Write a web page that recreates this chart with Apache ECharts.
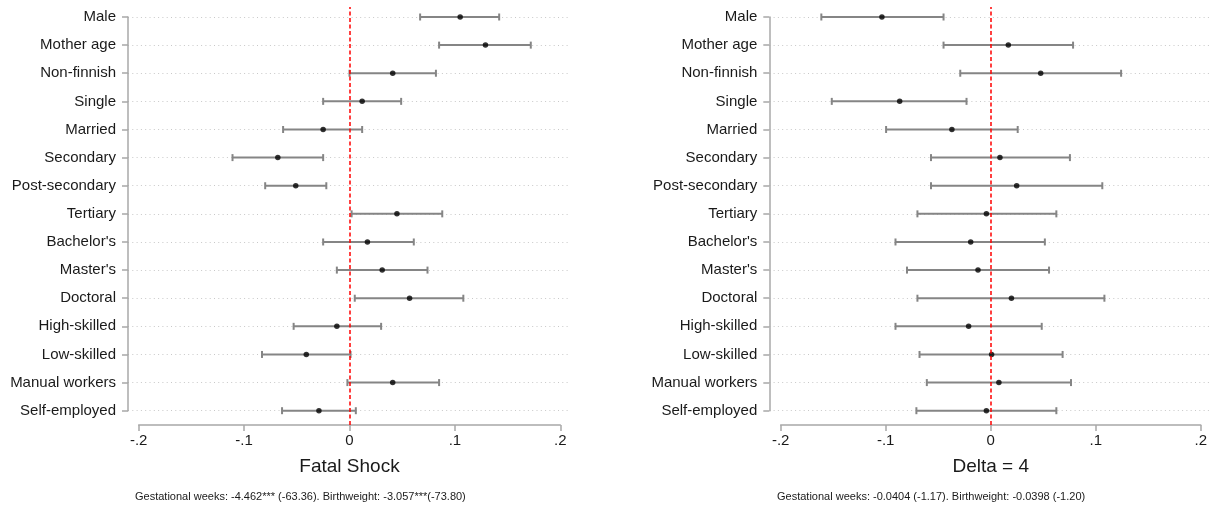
<!DOCTYPE html>
<html>
<head>
<meta charset="utf-8">
<script src="https://cdn.jsdelivr.net/npm/echarts@6/dist/echarts.min.js"></script>
<style>
html,body{margin:0;padding:0;background:#fff;}
#chart{width:1210px;height:507px;}
</style>
</head>
<body>
<div id="chart"></div>
<script>
const categories = ["Male","Mother age","Non-finnish","Single","Married","Secondary","Post-secondary","Tertiary","Bachelor's","Master's","Doctoral","High-skilled","Low-skilled","Manual workers","Self-employed"];

const fatalEst = [0.105, 0.129, 0.041, 0.012, -0.025, -0.068, -0.051, 0.045, 0.017, 0.031, 0.057, -0.012, -0.041, 0.041, -0.029];
const fatalLo  = [0.067, 0.085, 0.000, -0.025, -0.063, -0.111, -0.080, 0.002, -0.025, -0.012, 0.005, -0.053, -0.083, -0.002, -0.064];
const fatalHi  = [0.142, 0.172, 0.082, 0.049, 0.012, -0.025, -0.022, 0.088, 0.061, 0.074, 0.108, 0.030, 0.001, 0.085, 0.006];

const deltaEst = [-0.103, 0.018, 0.049, -0.086, -0.036, 0.010, 0.026, -0.003, -0.018, -0.011, 0.021, -0.020, 0.002, 0.009, -0.003];
const deltaLo  = [-0.161, -0.044, -0.028, -0.151, -0.099, -0.056, -0.056, -0.069, -0.090, -0.079, -0.069, -0.090, -0.067, -0.060, -0.070];
const deltaHi  = [-0.044, 0.080, 0.126, -0.022, 0.027, 0.077, 0.108, 0.064, 0.053, 0.057, 0.110, 0.050, 0.070, 0.078, 0.064];

const xTicks = [-0.2, -0.1, 0, 0.1, 0.2];
const panelTitles = ["Fatal Shock", "Delta = 4"];
const panelNotes = [
  "Gestational weeks: -4.462*** (-63.36). Birthweight: -3.057***(-73.80)",
  "Gestational weeks: -0.0404 (-1.17). Birthweight: -0.0398 (-1.20)"
];

const FONT = "'Liberation Sans', Arial, sans-serif";
const chart = echarts.init(document.getElementById('chart'), null, {renderer: 'canvas'});

function tickFmt(v) {
  const r = Math.round(v * 10) / 10;
  if (r === 0) return '0';
  let s = String(Math.abs(r)).replace(/^0/, '');
  return (r < 0 ? '-' : '') + s;
}

const panels = [
  {yAxisX: 128, xLeft: 138.7, xRight: 560.3, plotRight: 568, est: fatalEst, lo: fatalLo, hi: fatalHi, noteX: 130},
  {yAxisX: 769.3, xLeft: 780.7, xRight: 1202.3, plotRight: 1214, est: deltaEst, lo: deltaLo, hi: deltaHi, noteX: 772}
];

const grids = [], xAxes = [], yAxes = [], series = [], titles = [];
const TOP = 17, BOT = 410.7, AXY = 425, LINE_TOP = 7;

panels.forEach((p, i) => {
  const pxPerUnit = (p.xRight - p.xLeft) / 0.4;
  const pMin = -0.2 - (p.xLeft - p.yAxisX) / pxPerUnit;
  const pMax = 0.2 + (p.plotRight - p.xRight) / pxPerUnit;
  grids.push({left: p.yAxisX, width: p.plotRight - p.yAxisX, top: TOP, height: BOT - TOP, containLabel: false});
  const gP = grids.length - 1;
  xAxes.push({type: 'value', gridIndex: gP, min: pMin, max: pMax, show: false});
  yAxes.push({
    type: 'category', gridIndex: gP, data: categories, inverse: true, boundaryGap: false,
    axisLine: {show: true, onZero: false, lineStyle: {color: '#a8a8a8', width: 1.5}},
    axisTick: {show: true, length: 6, lineStyle: {color: '#a8a8a8', width: 1.5}},
    axisLabel: {color: '#1a1a1a', fontSize: 15, fontFamily: FONT, margin: 12},
    splitLine: {show: true, lineStyle: {color: '#c8c8c8', type: [1, 3.3], width: 1}}
  });
  const pIdx = xAxes.length - 1;
  grids.push({left: p.xLeft, width: p.xRight - p.xLeft, top: LINE_TOP, height: AXY - LINE_TOP, containLabel: false});
  const gA = grids.length - 1;
  xAxes.push({
    type: 'value', gridIndex: gA, min: -0.2, max: 0.2, interval: 0.1,
    axisLine: {show: true, onZero: false, lineStyle: {color: '#a8a8a8', width: 1.5}},
    axisTick: {show: true, length: 6, lineStyle: {color: '#a8a8a8', width: 1.5}},
    axisLabel: {color: '#1a1a1a', fontSize: 15, fontFamily: FONT, margin: 8, formatter: tickFmt},
    splitLine: {show: false},
    name: panelTitles[i], nameLocation: 'middle', nameGap: 32,
    nameTextStyle: {color: '#1a1a1a', fontSize: 19, fontFamily: FONT}
  });
  yAxes.push({type: 'value', gridIndex: gA, min: 0, max: 1, show: false});
  const aIdx = xAxes.length - 1;

  series.push({
    type: 'line', xAxisIndex: aIdx, yAxisIndex: aIdx, data: [], silent: true,
    markLine: {
      silent: true, symbol: ['none', 'none'], label: {show: false},
      lineStyle: {color: '#ff0000', type: [4, 2.5], width: 1.5},
      data: [{xAxis: 0}],
      animation: false
    }
  });
  series.push({
    type: 'custom', xAxisIndex: pIdx, yAxisIndex: pIdx, silent: true,
    data: categories.map((c, k) => [p.lo[k], p.hi[k], k]),
    encode: {x: [0, 1], y: 2},
    renderItem: function (params, api) {
      const a = api.coord([api.value(0), api.value(2)]);
      const b = api.coord([api.value(1), api.value(2)]);
      const h = 3.5;
      const st = {stroke: '#858585', lineWidth: 2};
      return {type: 'group', children: [
        {type: 'line', shape: {x1: a[0], y1: a[1], x2: b[0], y2: b[1]}, style: st},
        {type: 'line', shape: {x1: a[0], y1: a[1] - h, x2: a[0], y2: a[1] + h}, style: st},
        {type: 'line', shape: {x1: b[0], y1: b[1] - h, x2: b[0], y2: b[1] + h}, style: st}
      ]};
    },
    z: 3
  });
  series.push({
    type: 'scatter', xAxisIndex: pIdx, yAxisIndex: pIdx, silent: true,
    data: categories.map((c, k) => [p.est[k], c]),
    symbol: 'circle', symbolSize: 5.5,
    itemStyle: {color: '#000'}, z: 4
  });
  titles.push({
    text: panelNotes[i], left: p.noteX, top: 486,
    textStyle: {color: '#1a1a1a', fontSize: 11, fontWeight: 'normal', fontFamily: FONT}
  });
});

chart.setOption({
  animation: false,
  backgroundColor: '#fff',
  title: titles,
  grid: grids,
  xAxis: xAxes,
  yAxis: yAxes,
  series: series
});
</script>
</body>
</html>
